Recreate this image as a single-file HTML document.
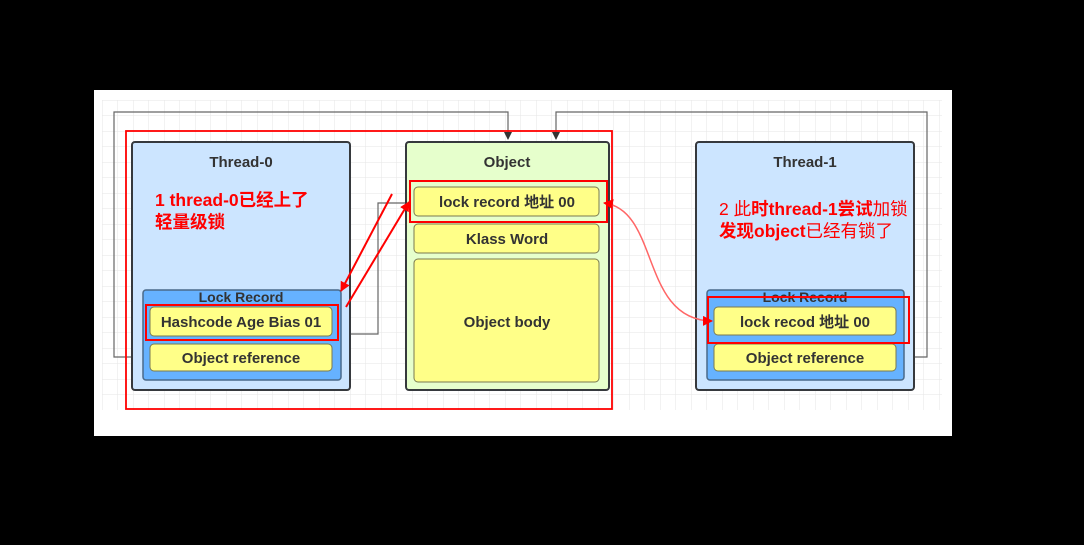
<!DOCTYPE html>
<html><head><meta charset="utf-8"><style>
html,body{margin:0;padding:0;background:#000;width:1084px;height:545px;overflow:hidden}
svg{display:block}
text{font-family:"Liberation Sans","Noto Sans CJK SC",sans-serif}
</style></head><body>
<svg width="1084" height="545" xmlns="http://www.w3.org/2000/svg">
<defs>
<pattern id="g" x="102" y="100" width="15.5" height="15.5" patternUnits="userSpaceOnUse">
<path d="M0 0H15.5M0 0V15.5" stroke="#e6e6e6" stroke-width="1" fill="none"/>
</pattern>
<marker id="ag" markerWidth="8" markerHeight="8" refX="7" refY="4" orient="auto" markerUnits="userSpaceOnUse"><path d="M0 0L8 4L0 8z" fill="#333"/></marker>
<marker id="ar" markerWidth="10" markerHeight="10" refX="9" refY="5" orient="auto" markerUnits="userSpaceOnUse"><path d="M0 0L10 5L0 10z" fill="#f00"/></marker>
<marker id="ars" markerWidth="10" markerHeight="10" refX="1" refY="5" orient="auto" markerUnits="userSpaceOnUse"><path d="M10 0L0 5L10 10z" fill="#f00"/></marker>
</defs>
<rect x="94" y="90" width="858" height="346" fill="#fff"/>
<rect x="102" y="100" width="840" height="310" fill="url(#g)"/>
<path d="M150 357H114V112H508V139" stroke="#666" stroke-width="1.2" fill="none" marker-end="url(#ag)"/>
<path d="M896 357H927V112H556V139" stroke="#666" stroke-width="1.2" fill="none" marker-end="url(#ag)"/>
<path d="M414 203H378V334H342" stroke="#666" stroke-width="1.2" fill="none" marker-end="url(#ag)"/>
<rect x="132" y="142" width="218" height="248" rx="3" fill="#cce5ff" stroke="#36393d" stroke-width="2"/>
<text x="241" y="167" text-anchor="middle" font-size="15" font-weight="bold" fill="#333">Thread-0</text>
<text x="155" y="206" font-size="17.5" font-weight="bold" fill="#f00">1 thread-0已经上了</text>
<text x="155" y="228" font-size="17.5" font-weight="bold" fill="#f00">轻量级锁</text>
<rect x="143" y="290" width="198" height="90" rx="3" fill="#66b2ff" stroke="#4a6a8a" stroke-width="1.5"/>
<text x="241" y="302" text-anchor="middle" font-size="14" font-weight="bold" fill="#333">Lock Record</text>
<rect x="150" y="307" width="182" height="29" rx="4" fill="#ffff88" stroke="#7a7a50" stroke-width="1"/>
<text x="241" y="327" text-anchor="middle" font-size="15" font-weight="bold" fill="#333">Hashcode Age Bias 01</text>
<rect x="150" y="344" width="182" height="27" rx="4" fill="#ffff88" stroke="#7a7a50" stroke-width="1"/>
<text x="241" y="363" text-anchor="middle" font-size="15" font-weight="bold" fill="#333">Object reference</text>
<rect x="146" y="305" width="192" height="35" fill="none" stroke="#f00" stroke-width="2"/>
<rect x="406" y="142" width="203" height="248" rx="3" fill="#e6ffcc" stroke="#36393d" stroke-width="2"/>
<text x="507" y="167" text-anchor="middle" font-size="15" font-weight="bold" fill="#333">Object</text>
<rect x="414" y="187" width="185" height="29" rx="4" fill="#ffff88" stroke="#7a7a50" stroke-width="1"/>
<text x="507" y="207" text-anchor="middle" font-size="15" font-weight="bold" fill="#333">lock record 地址 00</text>
<rect x="414" y="224" width="185" height="29" rx="4" fill="#ffff88" stroke="#7a7a50" stroke-width="1"/>
<text x="507" y="244" text-anchor="middle" font-size="15" font-weight="bold" fill="#333">Klass Word</text>
<rect x="414" y="259" width="185" height="123" rx="4" fill="#ffff88" stroke="#7a7a50" stroke-width="1"/>
<text x="507" y="327" text-anchor="middle" font-size="15" font-weight="bold" fill="#333">Object body</text>
<rect x="410" y="181" width="197" height="41" fill="none" stroke="#f00" stroke-width="2"/>
<rect x="696" y="142" width="218" height="248" rx="3" fill="#cce5ff" stroke="#36393d" stroke-width="2"/>
<text x="805" y="167" text-anchor="middle" font-size="15" font-weight="bold" fill="#333">Thread-1</text>
<text x="719" y="215" font-size="17.5" fill="#f00">2 此<tspan font-weight="bold">时thread-1尝试</tspan>加锁</text>
<text x="719" y="237" font-size="17.5" fill="#f00"><tspan font-weight="bold">发现object</tspan>已经有锁了</text>
<rect x="707" y="290" width="197" height="90" rx="3" fill="#66b2ff" stroke="#4a6a8a" stroke-width="1.5"/>
<text x="805" y="302" text-anchor="middle" font-size="14" font-weight="bold" fill="#333">Lock Record</text>
<rect x="714" y="307" width="182" height="28" rx="4" fill="#ffff88" stroke="#7a7a50" stroke-width="1"/>
<text x="805" y="327" text-anchor="middle" font-size="15" font-weight="bold" fill="#333">lock recod 地址 00</text>
<rect x="714" y="344" width="182" height="27" rx="4" fill="#ffff88" stroke="#7a7a50" stroke-width="1"/>
<text x="805" y="363" text-anchor="middle" font-size="15" font-weight="bold" fill="#333">Object reference</text>
<rect x="708" y="297" width="201" height="46" fill="none" stroke="#f00" stroke-width="2"/>
<rect x="126" y="131" width="486" height="278" fill="none" stroke="#f00" stroke-width="1.8"/>
<line x1="392" y1="194" x2="341" y2="291" stroke="#f00" stroke-width="2" marker-end="url(#ar)"/>
<line x1="346" y1="307" x2="409" y2="202" stroke="#f00" stroke-width="2" marker-end="url(#ar)"/>
<path d="M604 203C660 210 640 320 712 321" stroke="#f66" stroke-width="1.5" fill="none" marker-start="url(#ars)" marker-end="url(#ar)"/>
</svg>
</body></html>
